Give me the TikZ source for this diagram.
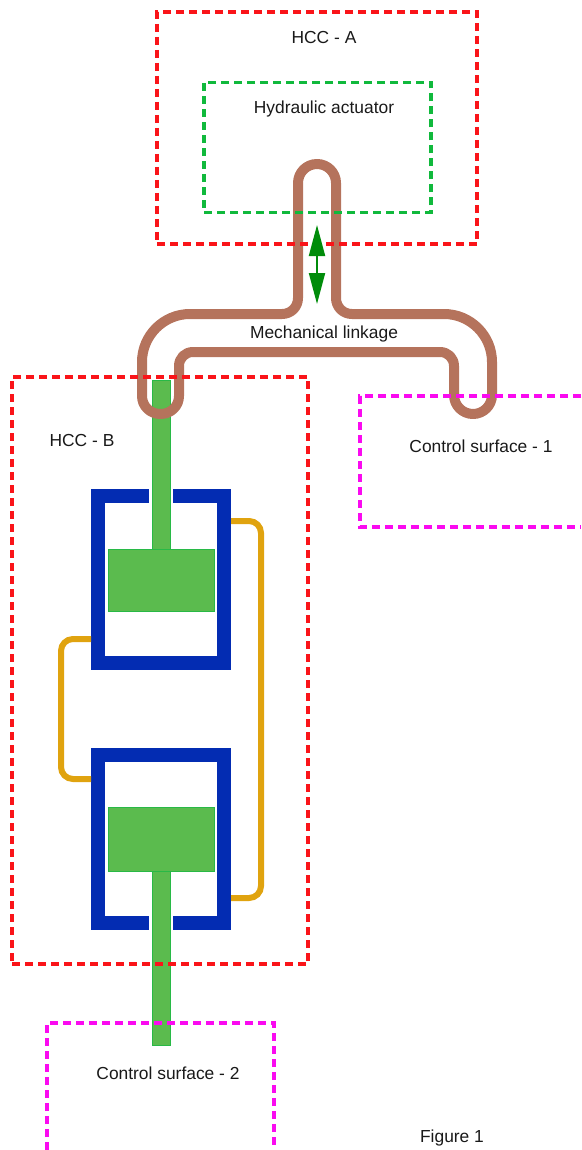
\documentclass[tikz,border=0pt]{standalone}
\usepackage{fontspec}
\setmainfont{Liberation Sans}
\usetikzlibrary{positioning,arrows.meta}
\definecolor{redbox}{RGB}{250,20,25}
\definecolor{greenbox}{RGB}{16,185,60}
\definecolor{pinkbox}{RGB}{250,10,240}
\definecolor{linkbrown}{RGB}{181,115,92}
\definecolor{wallblue}{RGB}{3,44,178}
\definecolor{pistongreen}{RGB}{91,187,78}
\definecolor{partedge}{RGB}{40,185,70}
\definecolor{pipeyellow}{RGB}{224,163,15}
\definecolor{arrowgreen}{RGB}{0,140,10}

\begin{document}
\begin{tikzpicture}[
    x=1pt, y=-1pt,
    dashbox/.style={rectangle, draw=#1, line width=3.2pt, dash pattern=on 8pt off 5pt, inner sep=0pt},
    openbox/.style={draw=pinkbox, line width=3.2pt, dash pattern=on 8pt off 5pt},
    txt/.style={font=\fontsize{17.4pt}{20pt}\selectfont, text=black!90, inner sep=0pt},
    wall/.style={rectangle, draw=wallblue, line width=14pt, inner sep=0pt},
    gap/.style={rectangle, fill=white, inner sep=0pt, minimum width=24pt, minimum height=14pt},
    part/.style={rectangle, fill=pistongreen, draw=partedge, line width=1pt, inner sep=0pt},
    pipe/.style={draw=pipeyellow, line width=6pt, rounded corners=12pt},
    linkage/.style={draw=linkbrown, line width=10pt, line join=round},
    motion/.style={<->, >={Triangle[length=31pt,width=16pt]}, draw=arrowgreen, fill=arrowgreen, line width=2pt}
]
\useasboundingbox (0,0) rectangle (581,1150);

% Upper cylinder
\node[wall, minimum width=126pt, minimum height=167pt] (cyl1) at (161,579.5) {};
\node[gap, below=0pt of cyl1.north] (gap1) {};
\node[part, minimum width=18pt, minimum height=169pt] (rod1) at (161,465) {};
\node[part, minimum width=106pt, minimum height=62pt] (piston1) at (161,580) {};

% Lower cylinder
\node[wall, minimum width=126pt, minimum height=168pt] (cyl2) at (161,839) {};
\node[gap, above=0pt of cyl2.south] (gap2) {};
\node[part, minimum width=18pt, minimum height=175pt] (rod2) at (161,958) {};
\node[part, minimum width=106pt, minimum height=64pt] (piston2) at (161,839) {};

% Pipes
\coordinate (pipe1a) at (231,521);
\coordinate (pipe1b) at (231,898);
\coordinate (pipe2a) at (91,639);
\coordinate (pipe2b) at (91,779);
\draw[pipe] (pipe1a) -- (261,521) -- (261,898) -- (pipe1b);
\draw[pipe] (pipe2a) -- (61,639) -- (61,779) -- (pipe2b);

% Mechanical linkage outline
\draw[linkage] (298,183) .. controls (298,172.5) and (306.5,164) .. (317,164)
    .. controls (327.5,164) and (336,172.5) .. (336,183)
    -- (336,298) .. controls (336,307) and (343,314) .. (352,314)
    -- (444,314) .. controls (470.5,314) and (492,335.5) .. (492,362)
    -- (492,395) .. controls (492,405.5) and (483.5,414) .. (473,414)
    .. controls (462.5,414) and (454,405.5) .. (454,395)
    -- (454,366) .. controls (454,358) and (448,352) .. (440,352)
    -- (193,352) .. controls (185,352) and (179,358) .. (179,366)
    -- (179,396) .. controls (179,406) and (171,414) .. (160.5,414)
    .. controls (150,414) and (142,406) .. (142,396)
    -- (142,362) .. controls (142,335.5) and (163.5,314) .. (190,314)
    -- (282,314) .. controls (291,314) and (298,307) .. (298,298) -- cycle;

% Dashed boxes
\node[dashbox=redbox, minimum width=320pt, minimum height=232pt] (hcca) at (317,128) {};
\node[dashbox=greenbox, minimum width=227pt, minimum height=130pt] (actuator) at (317.5,147.5) {};
\node[dashbox=redbox, minimum width=296pt, minimum height=587pt] (hccb) at (160,670.5) {};
\draw[openbox] (581,396) -- (360,396) -- (360,527) -- (581,527);
\draw[openbox] (47,1150) -- (47,1023) -- (274,1023) -- (274,1150);

% Motion arrow
\coordinate (motiontop) at (317,225);
\coordinate (motionlow) at (317,304);
\draw[motion] (motiontop) -- (motionlow);

% Labels
\node[txt] (hccalabel) at (324,38) {HCC - A};
\node[txt] (actuatorlabel) at (324,109) {Hydraulic actuator};
\node[txt] (linkagelabel) at (324,334) {Mechanical linkage};
\node[txt] (hccblabel) at (82,441) {HCC - B};
\node[txt] (surface1) at (481,446) {Control surface - 1};
\node[txt] (surface2) at (168,1073) {Control surface - 2};
\node[txt] (figlabel) at (452,1138) {Figure 1};
\end{tikzpicture}
\end{document}
